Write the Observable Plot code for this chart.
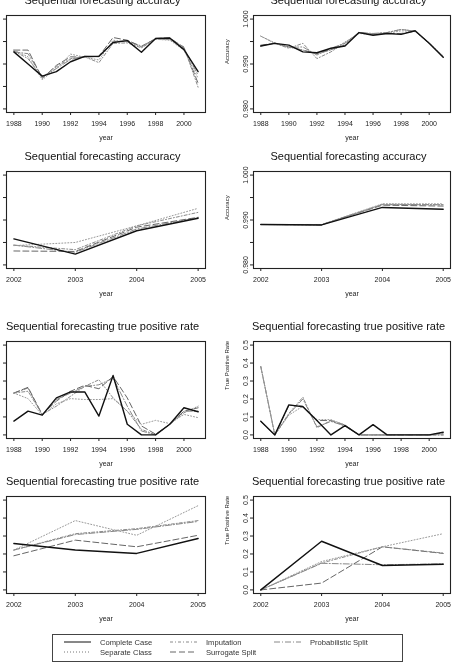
<!DOCTYPE html>
<html>
<head>
<meta charset="utf-8">
<script src="https://cdn.jsdelivr.net/npm/d3@7"></script>
<script src="https://cdn.jsdelivr.net/npm/@observablehq/plot@0.6"></script>
<style>
  body { margin: 0; background: #fff; }
  #fig { position: relative; width: 456px; height: 665px; overflow: hidden; background: #fff;
         font-family: "Liberation Sans", Arial, Helvetica, sans-serif; filter: grayscale(100%); }
  .panel { position: absolute; }
  .title { position: absolute; font-size: 11px; color: #111; white-space: nowrap;
           transform: translate(-50%, -50%); line-height: 1; }
  #legend { position: absolute; left: 0; top: 0; }
</style>
</head>
<body>
<div id="fig"></div>
<script>
// Methods, in legend order
const methods = ["Complete Case", "Separate Class", "Imputation", "Surrogate Split", "Probabilistic Split"];

// Years on the x axis
const years8801 = [1988, 1989, 1990, 1991, 1992, 1993, 1994, 1995, 1996, 1997, 1998, 1999, 2000, 2001];
const years0205 = [2002, 2003, 2004, 2005];
const tickYears8801 = [1988, 1990, 1992, 1994, 1996, 1998, 2000];
const tickYears0205 = [2002, 2003, 2004, 2005];

// y-axis ticks and their labels
const accTicks = [0.980, 0.985, 0.990, 0.995, 1.000];
const accTickLabels = ["0.980", "", "0.990", "", "1.000"];
const tprTicks = [0.0, 0.1, 0.2, 0.3, 0.4, 0.5];
const tprTickLabels = ["0.0", "0.1", "0.2", "0.3", "0.4", "0.5"];

// Accuracy, first data set, 1988-2001 (rows follow `methods`)
const accA8801 = [
  [0.9927, 0.9900, 0.9873, 0.9883, 0.9905, 0.9917, 0.9917, 0.9948, 0.9952, 0.9926, 0.9957, 0.9958, 0.9932, 0.9883],
  [0.9931, 0.9916, 0.9865, 0.9890, 0.9922, 0.9915, 0.9909, 0.9953, 0.9949, 0.9938, 0.9955, 0.9953, 0.9931, 0.9868],
  [0.9929, 0.9912, 0.9870, 0.9894, 0.9912, 0.9916, 0.9903, 0.9946, 0.9947, 0.9936, 0.9955, 0.9955, 0.9938, 0.9848],
  [0.9931, 0.9931, 0.9868, 0.9897, 0.9916, 0.9915, 0.9917, 0.9959, 0.9953, 0.9938, 0.9957, 0.9958, 0.9937, 0.9857],
  [0.9927, 0.9923, 0.9871, 0.9890, 0.9910, 0.9917, 0.9916, 0.9949, 0.9952, 0.9940, 0.9956, 0.9955, 0.9935, 0.9875]
];
// Accuracy, second data set, 1988-2001
const accB8801 = [
  [0.9940, 0.9946, 0.9942, 0.9927, 0.9925, 0.9935, 0.9940, 0.9970, 0.9964, 0.9968, 0.9966, 0.9974, 0.9946, 0.9915],
  [0.9962, 0.9947, 0.9938, 0.9931, 0.9922, 0.9931, 0.9949, 0.9968, 0.9966, 0.9968, 0.9974, 0.9972, 0.9947, 0.9918],
  [0.9962, 0.9946, 0.9935, 0.9946, 0.9912, 0.9927, 0.9947, 0.9970, 0.9967, 0.9970, 0.9977, 0.9973, 0.9947, 0.9915],
  [0.9942, 0.9946, 0.9938, 0.9931, 0.9923, 0.9932, 0.9942, 0.9970, 0.9966, 0.9968, 0.9968, 0.9973, 0.9946, 0.9916],
  [0.9940, 0.9947, 0.9937, 0.9938, 0.9920, 0.9935, 0.9946, 0.9970, 0.9968, 0.9970, 0.9977, 0.9973, 0.9946, 0.9915]
];
// Accuracy, 2002-2005
const accA0205 = [
  [0.9858, 0.9824, 0.9876, 0.9904],
  [0.9843, 0.9850, 0.9887, 0.9926],
  [0.9844, 0.9834, 0.9887, 0.9917],
  [0.9831, 0.9830, 0.9884, 0.9906],
  [0.9844, 0.9828, 0.9880, 0.9905]
];
const accB0205 = [
  [0.9890, 0.9889, 0.9928, 0.9924],
  [0.9890, 0.9890, 0.9936, 0.9936],
  [0.9890, 0.9889, 0.9934, 0.9934],
  [0.9890, 0.9890, 0.9933, 0.9931],
  [0.9890, 0.9889, 0.9935, 0.9934]
];
// True positive rate, 1988-2001
const tprA8801 = [
  [0.077, 0.132, 0.110, 0.206, 0.239, 0.239, 0.105, 0.331, 0.059, 0.000, 0.000, 0.059, 0.151, 0.129],
  [0.233, 0.202, 0.110, 0.173, 0.202, 0.197, 0.197, 0.202, 0.132, 0.059, 0.081, 0.063, 0.114, 0.096],
  [0.233, 0.243, 0.114, 0.160, 0.215, 0.270, 0.307, 0.206, 0.132, 0.031, 0.000, 0.059, 0.123, 0.160],
  [0.233, 0.265, 0.114, 0.188, 0.243, 0.276, 0.257, 0.325, 0.206, 0.050, 0.004, 0.059, 0.132, 0.151],
  [0.233, 0.261, 0.110, 0.197, 0.233, 0.270, 0.279, 0.316, 0.160, 0.022, 0.000, 0.059, 0.132, 0.132]
];
const tprB8801 = [
  [0.076, 0.000, 0.167, 0.157, 0.080, 0.000, 0.052, 0.000, 0.057, 0.000, 0.000, 0.000, 0.000, 0.015],
  [0.380, 0.000, 0.110, 0.160, 0.085, 0.085, 0.055, 0.000, 0.000, 0.000, 0.000, 0.000, 0.000, 0.005],
  [0.380, 0.000, 0.120, 0.210, 0.040, 0.080, 0.050, 0.000, 0.000, 0.000, 0.000, 0.000, 0.000, 0.000],
  [0.075, 0.000, 0.165, 0.160, 0.080, 0.080, 0.055, 0.000, 0.000, 0.000, 0.000, 0.000, 0.000, 0.010],
  [0.380, 0.000, 0.115, 0.200, 0.045, 0.075, 0.050, 0.000, 0.000, 0.000, 0.000, 0.000, 0.000, 0.000]
];
// True positive rate, 2002-2005
const tprA0205 = [
  [0.258, 0.222, 0.203, 0.286],
  [0.222, 0.386, 0.304, 0.469],
  [0.222, 0.313, 0.341, 0.386],
  [0.190, 0.277, 0.240, 0.304],
  [0.222, 0.308, 0.337, 0.381]
];
const tprB0205 = [
  [0.000, 0.271, 0.136, 0.143],
  [0.000, 0.158, 0.240, 0.313],
  [0.000, 0.150, 0.240, 0.205],
  [0.000, 0.038, 0.240, 0.203],
  [0.000, 0.148, 0.140, 0.145]
];

// Line appearance per method
const lineStyle = {
  "Complete Case":       { stroke: "#111", width: 1.4, dash: null },
  "Separate Class":      { stroke: "#999", width: 1,   dash: "1,2" },
  "Imputation":          { stroke: "#8a8a8a", width: 1, dash: "3,2,1,2" },
  "Surrogate Split":     { stroke: "#666", width: 1,   dash: "6,3" },
  "Probabilistic Split": { stroke: "#888", width: 1,   dash: "6,2,1,2" }
};

const fig = document.getElementById("fig");

// Panel layout: svg left edge per column, frame top per row
const colX = [-32, 215];
const colW = [243, 241];
const rowTop = [15, 171, 341, 496];
const frameH = 97;
const mT = 4, mB = 34, mL = 38, mR = 6;

const titleAcc = "Sequential forecasting accuracy";
const titleTpr = "Sequential forecasting true positive rate";

const panels = [
  { values: accA8801, years: years8801, ticksX: tickYears8801, kind: "acc", col: 0, row: 0 },
  { values: accB8801, years: years8801, ticksX: tickYears8801, kind: "acc", col: 1, row: 0 },
  { values: accA0205, years: years0205, ticksX: tickYears0205, kind: "acc", col: 0, row: 1 },
  { values: accB0205, years: years0205, ticksX: tickYears0205, kind: "acc", col: 1, row: 1 },
  { values: tprA8801, years: years8801, ticksX: tickYears8801, kind: "tpr", col: 0, row: 2 },
  { values: tprB8801, years: years8801, ticksX: tickYears8801, kind: "tpr", col: 1, row: 2 },
  { values: tprA0205, years: years0205, ticksX: tickYears0205, kind: "tpr", col: 0, row: 3 },
  { values: tprB0205, years: years0205, ticksX: tickYears0205, kind: "tpr", col: 1, row: 3 }
];

// R-style 4% padding around the data range
function padded(lo, hi) {
  const p = (hi - lo) * 0.04;
  return [lo - p, hi + p];
}

function makePanel(cfg) {
  const rows = cfg.values.flatMap((vals, i) =>
    vals.map((v, j) => ({ method: methods[i], year: cfg.years[j], value: v })));
  const isAcc = cfg.kind === "acc";
  const showYLabels = cfg.col === 1;   // the left column's y labels sit outside the figure
  const yTicks = isAcc ? accTicks : tprTicks;
  const yLabels = isAcc ? accTickLabels : tprTickLabels;
  const xDomain = padded(cfg.years[0], cfg.years[cfg.years.length - 1]);
  const yDomain = isAcc ? padded(0.98, 1.0) : padded(0, 0.5);

  // draw gray series first, Complete Case on top
  const drawOrder = methods.slice().reverse();
  const lines = drawOrder.map(m => {
    const s = lineStyle[m];
    return Plot.line(rows.filter(r => r.method === m), {
      x: "year", y: "value", stroke: s.stroke, strokeWidth: s.width,
      strokeDasharray: s.dash ?? undefined, strokeLinejoin: "round"
    });
  });

  const width = colW[cfg.col];
  const marks = [
    ...lines,
    Plot.frame({ stroke: "#222", strokeWidth: 1.1 }),
    Plot.axisX({ ticks: cfg.ticksX, tickSize: 3, tickPadding: 6,
                 tickFormat: d => String(d), label: null }),
    Plot.axisY({ ticks: yTicks, tickSize: 3, tickPadding: 3, tickRotate: -90,
                 tickFormat: showYLabels
                   ? (d => yLabels[yTicks.findIndex(t => Math.abs(t - d) < 1e-9)])
                   : (() => ""),
                 label: null }),
    Plot.text(["year"], { text: d => d, frameAnchor: "bottom", dy: 27, fontSize: 7 })
  ];
  if (showYLabels) {
    marks.push(Plot.text([isAcc ? "Accuracy" : "True Positive Rate"],
      { text: d => d, frameAnchor: "left", dx: -26, rotate: -90, fontSize: 6 }));
  }

  const chart = Plot.plot({
    width,
    height: mT + frameH + mB,
    marginLeft: mL, marginRight: mR, marginTop: mT, marginBottom: mB,
    x: { domain: xDomain },
    y: { domain: yDomain },
    style: { fontFamily: '"Liberation Sans", Arial, sans-serif', fontSize: "7px",
             background: "transparent", overflow: "visible", color: "#222" },
    marks
  });

  const holder = document.createElement("div");
  holder.className = "panel";
  holder.style.left = colX[cfg.col] + "px";
  holder.style.top = (rowTop[cfg.row] - mT) + "px";
  holder.appendChild(chart);
  fig.appendChild(holder);

  const title = document.createElement("div");
  title.className = "title";
  title.textContent = isAcc ? titleAcc : titleTpr;
  const frameLeft = colX[cfg.col] + mL;
  const frameRight = colX[cfg.col] + width - mR;
  title.style.left = ((frameLeft + frameRight) / 2 - 3) + "px";
  title.style.top = (rowTop[cfg.row] - 15.5) + "px";
  fig.appendChild(title);
}

panels.forEach(makePanel);

// Legend box below the panels, three columns filled top to bottom
const legendCols = [
  { lineX: 64, textX: 100 },
  { lineX: 170, textX: 206 },
  { lineX: 274, textX: 310 }
];
const legendRowY = [642, 652];
const ns = "http://www.w3.org/2000/svg";
const leg = document.createElementNS(ns, "svg");
leg.setAttribute("id", "legend");
leg.setAttribute("width", 456);
leg.setAttribute("height", 665);
leg.style.fontFamily = '"Liberation Sans", Arial, sans-serif';
const box = document.createElementNS(ns, "rect");
box.setAttribute("x", 52.5); box.setAttribute("y", 634.5);
box.setAttribute("width", 350); box.setAttribute("height", 27);
box.setAttribute("fill", "none"); box.setAttribute("stroke", "#444");
leg.appendChild(box);
methods.forEach((m, i) => {
  const c = legendCols[Math.floor(i / 2)];
  const y = legendRowY[i % 2];
  const s = lineStyle[m];
  const ln = document.createElementNS(ns, "line");
  ln.setAttribute("x1", c.lineX); ln.setAttribute("x2", c.lineX + 27);
  ln.setAttribute("y1", y); ln.setAttribute("y2", y);
  ln.setAttribute("stroke", s.stroke === "#999" ? "#777" : s.stroke);
  ln.setAttribute("stroke-width", 1);
  if (s.dash) ln.setAttribute("stroke-dasharray", s.dash);
  leg.appendChild(ln);
  const tx = document.createElementNS(ns, "text");
  tx.setAttribute("x", c.textX); tx.setAttribute("y", y);
  tx.setAttribute("dy", "0.35em");
  tx.setAttribute("font-size", "7.6");
  tx.setAttribute("fill", "#333");
  tx.textContent = m;
  leg.appendChild(tx);
});
fig.appendChild(leg);
</script>
</body>
</html>
